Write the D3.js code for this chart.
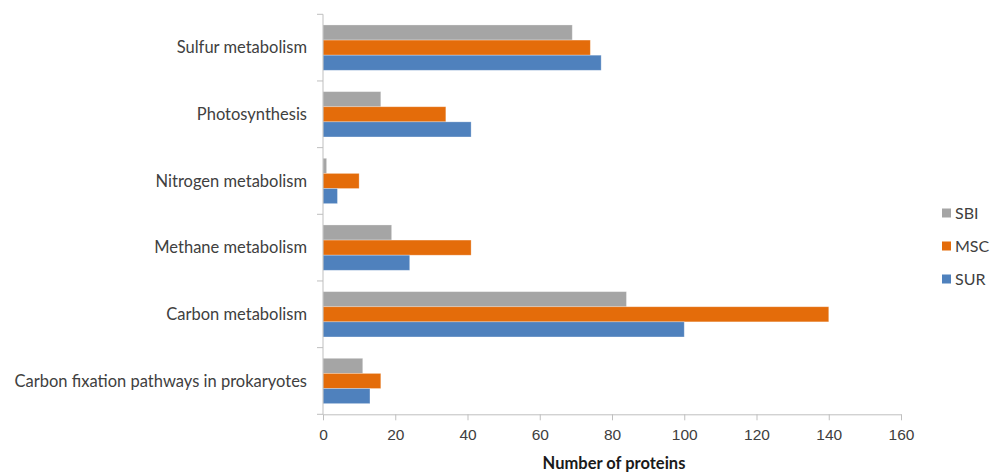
<!DOCTYPE html>
<html>
<head>
<meta charset="utf-8">
<script src="https://cdn.jsdelivr.net/npm/d3@7"></script>
<style>
  html, body { margin: 0; padding: 0; background: #fff; }
  svg { display: block; font-family: Lato, "Open Sans", sans-serif; }
</style>
</head>
<body>
<svg id="chart" width="999" height="473"></svg>
<script>
// Pathway categories, top to bottom
const categories = [
  "Sulfur metabolism",
  "Photosynthesis",
  "Nitrogen metabolism",
  "Methane metabolism",
  "Carbon metabolism",
  "Carbon fixation pathways in prokaryotes"
];
// Series drawn within each category, top to bottom
const seriesNames = ["SBI", "MSC", "SUR"];
const sbiValues = [69, 16, 1, 19, 84, 11];
const mscValues = [74, 34, 10, 41, 140, 16];
const surValues = [77, 41, 4, 24, 100, 13];
const xTicks = [0, 20, 40, 60, 80, 100, 120, 140, 160];
const xTitle = "Number of proteins";

const seriesValues = { SBI: sbiValues, MSC: mscValues, SUR: surValues };
const colors = { SBI: "#a5a5a5", MSC: "#e46c0a", SUR: "#4f81bd" };

const svg = d3.select("#chart");
const plotLeft = 323, plotRight = 901, plotTop = 14.3, plotBottom = 414.3;

const x = d3.scaleLinear().domain([0, 160]).range([plotLeft, plotRight]);
const y = d3.scaleBand().domain(categories).range([plotTop, plotBottom]).paddingInner(0.32).paddingOuter(0.16);
const ySub = d3.scaleBand().domain(seriesNames).range([0, y.bandwidth()]);

// Bars
const rows = categories.map((c, i) => ({ c, vals: seriesNames.map(s => ({ s, v: seriesValues[s][i] })) }));
const groups = svg.append("g").selectAll("g").data(rows).join("g")
  .attr("transform", d => `translate(0,${y(d.c)})`);
groups.selectAll("rect").data(d => d.vals).join("rect")
  .attr("x", x(0))
  .attr("y", d => ySub(d.s))
  .attr("width", d => x(d.v) - x(0))
  .attr("height", ySub.bandwidth())
  .attr("fill", d => colors[d.s])
  .attr("stroke", "#ffffff")
  .attr("stroke-opacity", 0.35)
  .attr("stroke-width", 0.8);

const axisColor = "#bfbfbf";
const textColor = "#404040";

// X axis
const xAxis = svg.append("g")
  .attr("transform", `translate(0,${plotBottom})`)
  .call(d3.axisBottom(x).tickValues(xTicks).tickSize(6).tickPadding(9).tickSizeOuter(0));
xAxis.select(".domain").attr("stroke", axisColor);
xAxis.selectAll(".tick line").attr("stroke", axisColor);
xAxis.selectAll(".tick text").attr("fill", textColor).style("font-size", "15.5px");

// Y axis: ticks at category boundaries, labels at band centres
const bounds = categories.map(c => y(c) - y.step() * y.paddingInner() / 2).concat([plotBottom]);
const yAxisG = svg.append("g");
yAxisG.append("line")
  .attr("x1", plotLeft).attr("x2", plotLeft).attr("y1", plotTop).attr("y2", plotBottom)
  .attr("stroke", axisColor);
yAxisG.selectAll("line.tick").data(bounds).join("line").attr("class", "tick")
  .attr("x1", plotLeft - 6).attr("x2", plotLeft).attr("y1", d => d).attr("y2", d => d)
  .attr("stroke", axisColor);
yAxisG.selectAll("text").data(categories).join("text")
  .attr("x", 307)
  .attr("y", c => y(c) + y.bandwidth() / 2)
  .attr("dy", "0.35em")
  .attr("text-anchor", "end")
  .attr("fill", textColor)
  .style("font-size", "16.5px")
  .text(c => c);

// X axis title
svg.append("text")
  .attr("x", (plotLeft + plotRight) / 2 + 2)
  .attr("y", 469)
  .attr("text-anchor", "middle")
  .attr("fill", "#1a1a1a")
  .style("font-size", "16.5px")
  .style("font-weight", "bold")
  .text(xTitle);

// Legend
const legend = svg.append("g").selectAll("g").data(seriesNames).join("g")
  .attr("transform", (d, i) => `translate(942,${213 + i * 33})`);
legend.append("rect")
  .attr("x", 0).attr("y", -4.5).attr("width", 9).attr("height", 9)
  .attr("fill", d => colors[d]);
legend.append("text")
  .attr("x", 13).attr("y", 0).attr("dy", "0.35em")
  .attr("fill", textColor)
  .style("font-size", "16px")
  .text(d => d);
</script>
</body>
</html>
